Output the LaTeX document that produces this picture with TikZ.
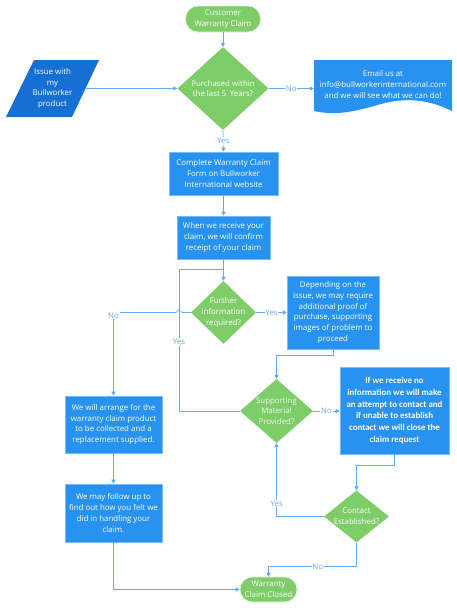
\documentclass[tikz,border=0pt]{standalone}
\usepackage{fontspec}
\setmainfont{Open Sans}
\newfontfamily\calfont{Carlito}
\usetikzlibrary{shapes.geometric,arrows.meta}
\definecolor{fgreen}{RGB}{126,205,104}
\definecolor{fblue}{RGB}{40,146,240}
\definecolor{fdark}{RGB}{22,112,212}
\definecolor{fline}{RGB}{100,172,242}
\definecolor{fedge}{RGB}{120,186,250}
\definecolor{flabel}{RGB}{105,168,232}
\tikzset{
  txt/.style={font=\fontsize{7.9}{10.7}\selectfont, text=white, align=center, inner sep=0pt},
  boxstyle/.style={txt, rectangle, fill=fblue, draw=fedge, line width=0.6pt},
  term/.style={txt, rectangle, rounded corners=12.5pt, fill=fgreen, draw=white!80!fgreen, line width=0.6pt},
  dia/.style={diamond, fill=fgreen, draw=none, inner sep=0pt},
  conn/.style={draw=fline, line width=0.7pt},
  arr/.style={conn, -{Triangle[width=4.2pt,length=4pt]}},
  lab/.style={font=\fontsize{7.9}{9}\selectfont, text=flabel, fill=white, inner sep=0.8pt},
}
\begin{document}
\begin{tikzpicture}[x=1pt,y=-1pt]
\useasboundingbox[fill=white] (0,0) rectangle (457,608);

% nodes
\node[term, minimum width=75pt, minimum height=26pt] (start) at (223,19) {Customer\\Warranty Claim};
\node[dia, minimum width=91pt, minimum height=83pt] (d1) at (223,88.5) {};
\node[txt] (d1t) at (d1.center) {Purchased within\\the last 5\, Years?};
\fill[fdark] (34,60) -- (99,60) -- (72,117) -- (6,117) -- cycle;
\node[txt] (para) at (52.5,88.5) {Issue with\\my\\Bullworker\\product};
\coordinate (paraE) at (86,88.5);
\fill[fblue] (314,60) -- (452,60) -- (452,111) .. controls (432,101) and (410,97) .. (385,103) .. controls (362,109) and (340,117) .. (314,111) -- cycle;
\node[txt, minimum width=138pt, minimum height=50pt] (doc) at (383,84.5) {Email us at\\info@bullworkerinternational.com\\and we will see what we can do!};
\node[boxstyle, minimum width=109pt, minimum height=43pt] (box2) at (223.5,173.5) {Complete Warranty Claim\\Form on Bullworker\\International website};
\node[boxstyle, minimum width=93pt, minimum height=43pt] (box3) at (223.5,237.5) {When we receive your\\claim, we will confirm\\receipt of your claim};
\node[dia, minimum width=65pt, minimum height=63pt] (d2) at (223.5,312.5) {};
\node[txt] (d2t) at (d2.center) {Further\\information\\required?};
\node[boxstyle, minimum width=92pt, minimum height=73pt] (box4) at (333,312.5) {Depending on the\\issue, we may require\\additional proof of\\purchase, supporting\\images of problem to\\proceed};
\node[boxstyle, minimum width=97pt, minimum height=57pt] (box5) at (113.5,424.5) {We will arrange for the\\warranty claim product\\to be collected and a\\replacement supplied.};
\node[boxstyle, minimum width=97pt, minimum height=58pt] (box6) at (113.5,513) {We may follow up to\\find out how you felt we\\did in handling your\\claim.};
\node[dia, minimum width=73pt, minimum height=64pt] (d3) at (276.5,411) {};
\node[txt, text=white!85!fgreen] (d3t) at (d3.center) {Supporting\\Material\\Provided?};
\node[boxstyle, minimum width=109pt, minimum height=87pt, font=\calfont\bfseries\fontsize{8.9}{11.7}\selectfont] (box7) at (394.5,410.5) {If we receive no\\information we will make\\an attempt to contact and\\if unable to establish\\contact we will close the\\claim request};
\node[dia, minimum width=65pt, minimum height=52pt] (d4) at (356.5,516.5) {};
\node[txt] (d4t) at (d4.center) {Contact\\Established?};
\node[term, minimum width=57pt, minimum height=25pt] (end) at (268.5,589.5) {Warranty\\Claim Closed};

% connectors
\draw[arr] (start.south) -- (d1.north);
\draw[arr] (paraE) -- (paraE -| d1.west);
\draw[arr] (d1.east) -- (d1.east -| doc.west) node[lab, pos=0.5] (l1) {No};
\draw[arr] (d1.south) -- (box2.north) node[lab, pos=0.5] (l2) {Yes};
\draw[arr] (box2.south) -- (box3.north);
\draw[arr] (box3.south) -- (d2.north);
\draw[arr] (d2.east) -- (d2.east -| box4.west) node[lab, pos=0.5] (l3) {Yes};
% loop from supporting material (Yes)
\coordinate (lp) at (179,269);
\draw[conn] (d3.west) -| (lp) -- (lp -| d2.north);
\node[lab] (l4) at (179,342) {Yes};
% No from further information, with hop
\draw[conn] (d2.west) -- (182,312.5) -- (179,309.5) -- (176,312.5) -- (d2.west -| box5.north);
\draw[arr] (d2.west -| box5.north) -- (box5.north);
\node[lab] (l5) at (113.5,315.5) {No};
\draw[arr] (box4.south) -- ++(0,6) -| (d3.north);
\draw[arr] (d3.east) -- (d3.east -| box7.west) node[lab, pos=0.5] (l6) {No};
\draw[arr] (box7.south) -- ++(0,11) -| (d4.north);
\draw[arr] (d4.west) -| (d3.south) node[lab, pos=0.59] (l7) {Yes};
\draw[arr] (d4.south) -- ++(0,24) -| (end.north) node[lab, pos=0.22] (l8) {No};
\draw[arr] (box5.south) -- (box6.north);
\draw[arr] (box6.south) |- (end.west);
\end{tikzpicture}
\end{document}
